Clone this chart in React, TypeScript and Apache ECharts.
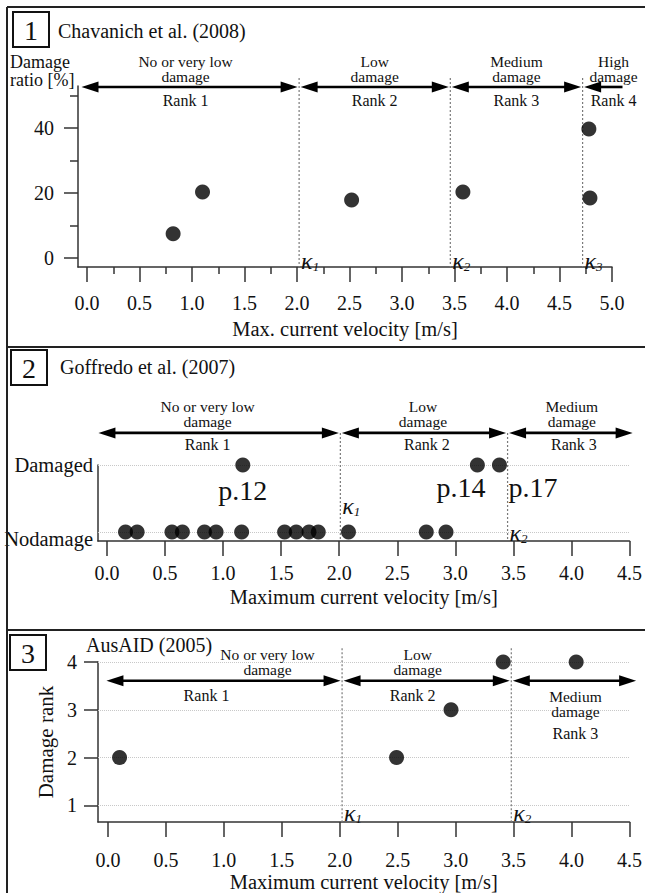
import React, { useEffect, useRef } from 'react';
import * as echarts from 'echarts';

const FONT = 'Liberation Serif';
const INK = '#111';

// ---------- Panel 1: Chavanich et al. (2008) ----------
const p1Title = 'Chavanich et al. (2008)';
const p1Velocity = [0.82, 1.1, 2.52, 3.58, 4.78, 4.79];
const p1DamageRatio = [7.4, 20.3, 17.8, 20.3, 39.7, 18.4];
const p1Thresholds = [2.02, 3.46, 4.72];
const p1RangeTitles = ['No or very low\ndamage', 'Low\ndamage', 'Medium\ndamage', 'High\ndamage'];
const p1RangeRanks = ['Rank 1', 'Rank 2', 'Rank 3', 'Rank 4'];
const p1XTicks = [0, 0.5, 1, 1.5, 2, 2.5, 3, 3.5, 4, 4.5, 5];
const p1XMinorTicks = [0.25, 0.75, 1.25, 1.75, 2.25, 2.75, 3.25, 3.75, 4.25, 4.75];
const p1YTicks = [0, 20, 40];
const p1YMinorTicks = [10, 30, 50];

// ---------- Panel 2: Goffredo et al. (2007) ----------
const p2Title = 'Goffredo et al. (2007)';
const p2Categories = ['Nodamage', 'Damaged'];
const p2DamagedVelocity = [1.17, 3.19, 3.38];
const p2NoDamageVelocity = [0.16, 0.26, 0.56, 0.65, 0.84, 0.94, 1.16, 1.53, 1.63, 1.74, 1.82, 2.08, 2.75, 2.92];
const p2Thresholds = [2.01, 3.45];
const p2RangeTitles = ['No or very low\ndamage', 'Low\ndamage', 'Medium\ndamage'];
const p2RangeRanks = ['Rank 1', 'Rank 2', 'Rank 3'];
const p2PageLabels = ['p.12', 'p.14', 'p.17'];
const p2PageVelocity = [1.17, 3.05, 3.67];
const p2XTicks = [0, 0.5, 1, 1.5, 2, 2.5, 3, 3.5, 4, 4.5];

// ---------- Panel 3: AusAID (2005) ----------
const p3Title = 'AusAID (2005)';
const p3Velocity = [0.1, 2.49, 2.96, 3.41, 4.04];
const p3DamageRank = [2, 2, 3, 4, 4];
const p3Thresholds = [2.02, 3.48];
const p3RangeTitles = ['No or very low\ndamage', 'Low\ndamage', 'Medium\ndamage'];
const p3RangeRanks = ['Rank 1', 'Rank 2', 'Rank 3'];
const p3XTicks = [0, 0.5, 1, 1.5, 2, 2.5, 3, 3.5, 4, 4.5];
const p3YTicks = [1, 2, 3, 4];

const axisLine = { show: true, onZero: false, lineStyle: { color: '#333', width: 1.5 } };
const tickStyle = { color: '#333', width: 1.5 };
const labelFont = { fontFamily: FONT, fontSize: 20, color: INK };

function xMain(gridIndex: number, min: number, max: number, ticks: number[], len: number, margin: number, name: string, nameGap: number) {
  return {
    type: 'value', gridIndex, min, max, position: 'bottom',
    axisLine,
    axisTick: { show: true, length: len, lineStyle: tickStyle, customValues: ticks },
    axisLabel: { ...labelFont, margin, customValues: ticks, formatter: (v: number) => v.toFixed(1) },
    splitLine: { show: false },
    name, nameLocation: 'middle', nameGap,
    nameTextStyle: { fontFamily: FONT, fontSize: 20.5, color: INK },
  };
}

export default function App() {
  const ref = useRef<HTMLDivElement>(null);
  useEffect(() => {
    document.body.style.margin = '0';
    const chart = echarts.init(ref.current!, null, { renderer: 'svg' });
    const option: any = {
      animation: false,
      textStyle: { fontFamily: FONT },
      grid: [
        { left: 78, top: 86, width: 534, height: 181 },
        { left: 98, top: 465, width: 533, height: 76 },
        { left: 98, top: 662, width: 534, height: 171 },
      ],
      xAxis: [
        xMain(0, -0.086, 5.0, p1XTicks, 15, 26, 'Max. current velocity [m/s]', 51),
        {
          type: 'value', gridIndex: 0, min: -0.086, max: 5.0, position: 'bottom',
          axisLine: { show: false, onZero: false },
          axisTick: { show: true, length: 7, lineStyle: tickStyle, customValues: p1XMinorTicks },
          axisLabel: { show: false }, splitLine: { show: false },
        },
        xMain(1, -0.077, 4.5, p2XTicks, 15, 22, 'Maximum current velocity [m/s]', 45),
        xMain(2, -0.086, 4.5, p3XTicks, 15, 28, 'Maximum current velocity [m/s]', 40),
      ],
      yAxis: [
        {
          type: 'value', gridIndex: 0, min: -2.8, max: 52.9, position: 'left',
          axisLine,
          axisTick: { show: true, length: 14, lineStyle: tickStyle, customValues: p1YTicks },
          axisLabel: { ...labelFont, margin: 24, customValues: p1YTicks, formatter: (v: number) => String(v) },
          splitLine: { show: false },
        },
        {
          type: 'value', gridIndex: 0, min: -2.8, max: 52.9, position: 'left',
          axisLine: { show: false, onZero: false },
          axisTick: { show: true, length: 8, lineStyle: tickStyle, customValues: p1YMinorTicks },
          axisLabel: { show: false }, splitLine: { show: false },
        },
        {
          type: 'value', gridIndex: 1, min: -0.136, max: 1.0, position: 'left',
          axisLine,
          axisTick: { show: false },
          axisLabel: {
            ...labelFont, fontSize: 20.5, margin: 5, customValues: [0, 1],
            formatter: (v: number) => (v === 0 ? '{low|' + p2Categories[0] + '}' : p2Categories[1]),
            rich: { low: { fontFamily: FONT, fontSize: 20.5, color: INK, padding: [14, 0, 0, 0] } },
          },
          splitLine: { show: false },
        },
        {
          type: 'value', gridIndex: 2, min: 0.65, max: 4.0, position: 'left',
          axisLine,
          axisTick: { show: true, length: 14, lineStyle: tickStyle, customValues: p3YTicks },
          axisLabel: { ...labelFont, margin: 21, customValues: p3YTicks, formatter: (v: number) => String(v) },
          splitLine: { show: false },
          name: 'Damage rank', nameLocation: 'middle', nameGap: 40,
          nameTextStyle: { fontFamily: FONT, fontSize: 21, color: INK },
        },
      ],
      series: [
        {
          type: 'scatter', xAxisIndex: 0, yAxisIndex: 0, symbolSize: 15, z: 5,
          itemStyle: { color: '#000' },
          data: p1Velocity.map((v, i) => [v, p1DamageRatio[i]]),
        },
        {
          type: 'scatter', xAxisIndex: 2, yAxisIndex: 2, symbolSize: 15, z: 5,
          itemStyle: { color: '#000' },
          data: [
            ...p2NoDamageVelocity.map((v) => [v, 0]),
            ...p2DamagedVelocity.map((v) => [v, 1]),
          ],
          markLine: {
            silent: true, symbol: ['none', 'none'], z: 1,
            label: { show: false },
            lineStyle: { color: '#c8c8c8', type: 'dotted', width: 1 },
            data: p2Categories.map((_, i) => ({ yAxis: i })),
          },
        },
        {
          type: 'scatter', xAxisIndex: 3, yAxisIndex: 3, symbolSize: 15, z: 5,
          itemStyle: { color: '#000' },
          data: p3Velocity.map((v, i) => [v, p3DamageRank[i]]),
          markLine: {
            silent: true, symbol: ['none', 'none'], z: 1,
            label: { show: false },
            lineStyle: { color: '#c8c8c8', type: 'dotted', width: 1 },
            data: p3YTicks.map((t) => ({ yAxis: t })),
          },
        },
      ],
    };
    chart.setOption(option);

    const px = (a: number, v: number) => chart.convertToPixel({ xAxisIndex: a } as any, v) as unknown as number;
    const py = (a: number, v: number) => chart.convertToPixel({ yAxisIndex: a } as any, v) as unknown as number;

    const els: any[] = [];
    const line = (x1: number, y1: number, x2: number, y2: number, style: any) =>
      els.push({ type: 'line', shape: { x1, y1, x2, y2 }, style, z: 1 });
    const text = (x: number, y: number, t: string, size: number, align = 'center', extra: any = {}) =>
      els.push({
        type: 'text', x, y, z: 6,
        style: { text: t, fontFamily: FONT, fontSize: size, fill: INK, align, verticalAlign: 'middle', ...extra },
      });

    // frame
    const frame = { stroke: '#222', lineWidth: 2 };
    line(7, 7, 7, 893, frame);
    [7, 347, 630].forEach((y) => line(7, y, 645, y, frame));

    // panel number boxes + titles
    const boxes = [
      { n: '1', x: 13, y: 12, title: p1Title, tx: 58, ty: 31 },
      { n: '2', x: 11, y: 350, title: p2Title, tx: 60, ty: 367 },
      { n: '3', x: 10, y: 635, title: p3Title, tx: 86, ty: 645 },
    ];
    boxes.forEach((b) => {
      els.push({ type: 'rect', shape: { x: b.x, y: b.y, width: 36, height: 35 }, style: { fill: 'none', stroke: '#111', lineWidth: 2 }, z: 6 });
      text(b.x + 18, b.y + 18.5, b.n, 28);
      text(b.tx, b.ty, b.title, 20, 'left');
    });

    // y axis title panel 1
    text(10, 71, 'Damage\nratio [%]', 18, 'left', { lineHeight: 18 });

    const HL = 17, HW = 5.5, GAP = 1.5;
    const arrow = (xa: number, xb: number, y: number, headL: boolean, headR: boolean) => {
      const a = headL ? xa + GAP : xa;
      const b = headR ? xb - GAP : xb;
      line(headL ? a + HL - 2 : a, y, headR ? b - HL + 2 : b, y, { stroke: '#000', lineWidth: 2.6 });
      if (headL) els.push({ type: 'polygon', z: 6, shape: { points: [[a, y], [a + HL, y - HW], [a + HL, y + HW]] }, style: { fill: '#000' } });
      if (headR) els.push({ type: 'polygon', z: 6, shape: { points: [[b, y], [b - HL, y - HW], [b - HL, y + HW]] }, style: { fill: '#000' } });
    };

    const kappa = (x: number, y: number, i: number) =>
      els.push({
        type: 'text', x: x + 2, y, z: 6,
        style: {
          text: '{k|κ}{s|' + i + '}', align: 'left', verticalAlign: 'middle',
          rich: {
            k: { fontFamily: FONT, fontSize: 24, fontStyle: 'italic', fill: INK },
            s: { fontFamily: FONT, fontSize: 13, fontStyle: 'italic', fill: INK, verticalAlign: 'bottom' },
          },
        },
      });

    const dotted = { stroke: '#7a7a7a', lineWidth: 1.2, lineDash: [2, 2] };

    type PanelCfg = {
      xa: number; ya: number; thresholds: number[]; ends: [number, number];
      arrowLevel: number; lineTop: number; yMin: number; kLevels: number[];
      titles: string[]; ranks: string[]; lastRightHead: boolean;
      titleDy: number; rankDy: number; titleDx: number[]; rankDx: number[];
      below?: number[];
    };
    const panels: PanelCfg[] = [
      {
        xa: 0, ya: 0, thresholds: p1Thresholds, ends: [-0.067, 5.1], arrowLevel: 52.6, lineTop: 55.4, yMin: -2.8,
        kLevels: [-0.8, -0.8, -0.8], titles: p1RangeTitles, ranks: p1RangeRanks, lastRightHead: false,
        titleDy: -18, rankDy: 14, titleDx: [-4, 0, 0, 11], rankDx: [-4, 0, 0, 11],
      },
      {
        xa: 2, ya: 2, thresholds: p2Thresholds, ends: [-0.086, 4.54], arrowLevel: 1.48, lineTop: 1.48, yMin: -0.136,
        kLevels: [0.39, -0.01], titles: p2RangeTitles, ranks: p2RangeRanks, lastRightHead: true,
        titleDy: -18.5, rankDy: 12, titleDx: [-11, -1, 1], rankDx: [-11, 3, 3],
      },
      {
        xa: 3, ya: 3, thresholds: p3Thresholds, ends: [-0.026, 4.57], arrowLevel: 3.608, lineTop: 4.29, yMin: 0.65,
        kLevels: [0.83, 0.83], titles: p3RangeTitles, ranks: p3RangeRanks, lastRightHead: true,
        titleDy: -18.5, rankDy: 15, titleDx: [44, -9, 1], rankDx: [-17, -14, 1], below: [2],
      },
    ];

    panels.forEach((p) => {
      const ay = py(p.ya, p.arrowLevel);
      const bottom = py(p.ya, p.yMin);
      const top = py(p.ya, p.lineTop);
      p.thresholds.forEach((t, i) => {
        const x = px(p.xa, t);
        line(x, top, x, bottom, dotted);
        kappa(x, py(p.ya, p.kLevels[i]), i + 1);
      });
      const bounds = [p.ends[0], ...p.thresholds, p.ends[1]];
      for (let i = 0; i < bounds.length - 1; i++) {
        const x1 = px(p.xa, bounds[i]);
        const x2 = px(p.xa, bounds[i + 1]);
        const last = i === bounds.length - 2;
        arrow(x1, x2, ay, true, last ? p.lastRightHead : true);
        const mid = (x1 + x2) / 2;
        const isBelow = p.below && p.below.includes(i);
        const style = { lineHeight: 15 };
        if (isBelow) {
          text(mid + p.titleDx[i], ay + 23, p.titles[i], 15.5, 'center', style);
          text(mid + p.rankDx[i], ay + 53, p.ranks[i], 16);
        } else {
          text(mid + p.titleDx[i], ay + p.titleDy, p.titles[i], 15.5, 'center', style);
          text(mid + p.rankDx[i], ay + p.rankDy, p.ranks[i], 16);
        }
      }
    });

    // page labels panel 2
    const pageLevels = [0.626, 0.67, 0.67];
    p2PageLabels.forEach((l, i) => text(px(2, p2PageVelocity[i]), py(2, pageLevels[i]), l, 28));

    chart.setOption({ graphic: els });
    return () => chart.dispose();
  }, []);
  return <div ref={ref} style={{ width: 645, height: 893 }} />;
}
